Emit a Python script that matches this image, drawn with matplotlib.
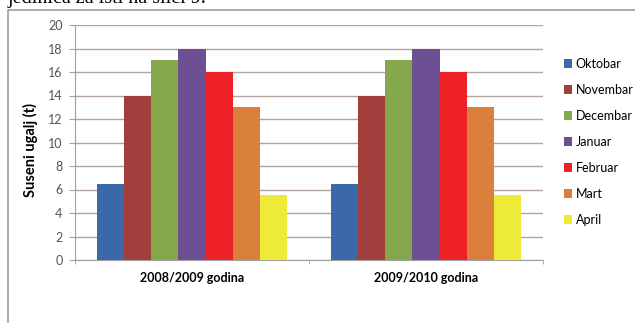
import numpy as np
import matplotlib
matplotlib.use("Agg")
import matplotlib.pyplot as plt
from matplotlib.patches import Rectangle

plt.rcParams['font.family'] = ['Lato', 'DejaVu Sans']

seasons = ["2008/2009 godina", "2009/2010 godina"]
months = ["Oktobar", "Novembar", "Decembar", "Januar", "Februar", "Mart", "April"]
values_0809 = [6.5, 14, 17, 18, 16, 13, 5.5]
values_0910 = [6.5, 14, 17, 18, 16, 13, 5.5]
colors = ["#3b68a8", "#a23f3d", "#84a84b", "#6c5093", "#ee2226", "#da7f3c", "#eeea3a"]

W, H = 635, 323
fig = plt.figure(figsize=(W / 100, H / 100), dpi=100)

# page text partly cut off at the top (as in the scanned source)
fig.text(8 / W, 1 - 3 / H, "jedinica za isti na slici 9.", family="Liberation Serif",
         fontsize=14.5, va="baseline", ha="left")

# outer frame of the chart
fig.add_artist(Rectangle((8 / W, -0.2), 1.2, 1.2 - 10 / H,
                         transform=fig.transFigure, fill=False,
                         edgecolor="#a0a0a0", linewidth=1.2, clip_on=False))

ax = fig.add_axes([75 / W, 1 - 260 / H, (543 - 75) / W, (260 - 25) / H])

x = np.arange(len(seasons))
bw = 0.1155
data = np.array([values_0809, values_0910])
for i, (m, c) in enumerate(zip(months, colors)):
    ax.bar(x + (i - 3) * bw, data[:, i], width=bw, color=c, label=m, zorder=3)

ax.set_xlim(-0.5, 1.5)
ax.set_ylim(0, 20)
ax.set_yticks(np.arange(0, 21, 2))
ax.yaxis.grid(True, color="#b3a39c", linewidth=1, zorder=0)
ax.set_xticks(x)
ax.set_xticklabels(seasons, fontsize=9, fontweight="bold")
ax.set_xticks([-0.5, 0.5, 1.5], minor=True)
ax.tick_params(axis="x", which="major", length=0, pad=9)
ax.tick_params(axis="x", which="minor", length=3, color="#a0a0a0")
ax.tick_params(axis="y", length=4, color="#a0a0a0", labelsize=9, labelcolor="#555555", pad=5)
for s in ["top", "right"]:
    ax.spines[s].set_visible(False)
for s in ["left", "bottom"]:
    ax.spines[s].set_color("#a0a0a0")
ax.set_ylabel("Suseni ugalj (t)", fontsize=10.5, fontweight="bold")
ax.yaxis.set_label_coords(-0.079, 0.47)

fig.legend(loc="center left", bbox_to_anchor=(553 / W, 1 - 142 / H), frameon=False,
           fontsize=9, handlelength=0.65, handleheight=0.65, handletextpad=0.25,
           labelspacing=1.12)

fig.savefig("out.png", dpi=100)
